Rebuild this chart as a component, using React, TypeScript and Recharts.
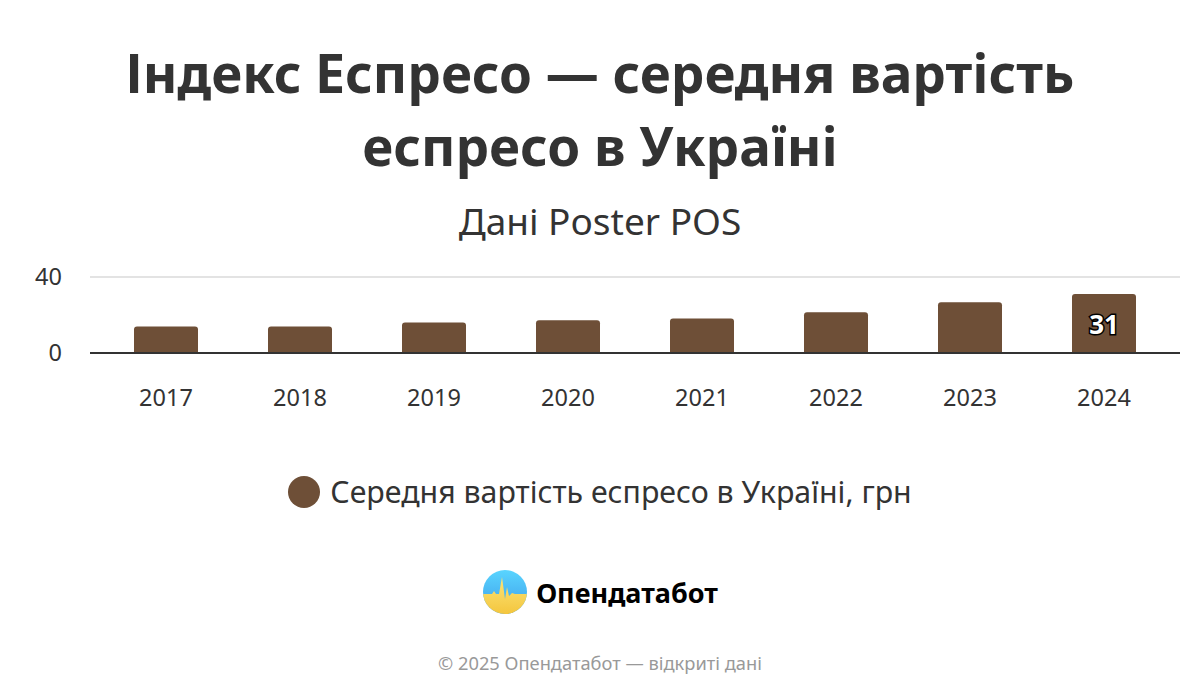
import React from 'react'
import { Bar, BarChart, CartesianGrid, LabelList, XAxis, YAxis } from 'recharts'

const years = ['2017', '2018', '2019', '2020', '2021', '2022', '2023', '2024']
const prices = [14, 14, 16.1, 17.2, 18.2, 21.4, 26.7, 31]
const shownLabels = [null, null, null, null, null, null, null, '31']
const yTicks = [0, 40]

const chartData = years.map((y, i) => ({ year: y, price: prices[i], label: shownLabels[i] }))

const FONT = '"Noto Sans", "Open Sans", sans-serif'
const BROWN = '#6e4f37'

function BarValue(props: any) {
  const { x, y, width, height, value } = props
  if (!value) return null
  return (
    <text
      x={x + width / 2}
      y={y + height / 2}
      textAnchor="middle"
      dominantBaseline="central"
      fontFamily={FONT}
      fontWeight={700}
      fontSize={26}
      fill="#fff"
      stroke="#000"
      strokeWidth={3}
      paintOrder="stroke"
    >
      {value}
    </text>
  )
}

function Logo() {
  return (
    <svg width={46} height={46} viewBox="0 0 46 46">
      <defs>
        <clipPath id="lc">
          <circle cx={23} cy={23} r={22} />
        </clipPath>
        <linearGradient id="lb" x1="0" y1="0" x2="0" y2="1">
          <stop offset="0" stopColor="#5ad6ff" />
          <stop offset="1" stopColor="#3d9be9" />
        </linearGradient>
        <linearGradient id="ly" x1="0" y1="0" x2="0" y2="1">
          <stop offset="0" stopColor="#fbe57a" />
          <stop offset="1" stopColor="#f4c53c" />
        </linearGradient>
      </defs>
      <g clipPath="url(#lc)">
        <rect x={0} y={0} width={46} height={46} fill="url(#lb)" />
        <path
          d="M0 25 L10 25 L12 22 L14 25 L17 25 L20 8 L23 30 L25 18 L27 27 L30 24 L33 25 L46 25 L46 46 L0 46 Z"
          fill="url(#ly)"
        />
      </g>
    </svg>
  )
}

export default function App() {
  return (
    <div
      style={{
        position: 'absolute',
        left: 0,
        top: 0,
        width: 1200,
        height: 700,
        background: '#fff',
        fontFamily: FONT,
        color: '#333',
      }}
    >
      <div
        style={{
          position: 'absolute',
          top: 36,
          left: 0,
          width: 1200,
          textAlign: 'center',
          fontSize: 53,
          fontWeight: 700,
          lineHeight: '73px',
          color: '#333',
        }}
      >
        Індекс Еспресо — середня вартість
        <br />
        еспресо в Україні
      </div>
      <div
        style={{
          position: 'absolute',
          top: 196,
          left: 0,
          width: 1200,
          textAlign: 'center',
          fontSize: 37,
          lineHeight: '50px',
          color: '#333',
        }}
      >
        Дані Poster POS
      </div>

      <div style={{ position: 'absolute', left: 0, top: 0 }}>
        <BarChart width={1200} height={420} data={chartData} margin={{ top: 277, right: 20, bottom: 37, left: 30 }}>
          <CartesianGrid vertical={false} stroke="#e3e3e3" strokeWidth={2} />
          <XAxis
            dataKey="year"
            padding={{ left: 9, right: 9 }}
            axisLine={{ stroke: '#333', strokeWidth: 2 }}
            tickLine={false}
            tickMargin={30}
            tick={{ fill: '#333', fontSize: 23.5, fontFamily: FONT }}
          />
          <YAxis
            width={60}
            domain={[0, 40]}
            ticks={yTicks}
            axisLine={false}
            tickLine={false}
            tickMargin={22}
            tick={{ fill: '#333', fontSize: 23.5, fontFamily: FONT }}
          />
          <Bar dataKey="price" fill={BROWN} barSize={64} radius={[3, 3, 0, 0]} isAnimationActive={false}>
            <LabelList dataKey="label" content={<BarValue />} />
          </Bar>
        </BarChart>
      </div>

      <div
        style={{
          position: 'absolute',
          top: 470,
          left: 0,
          width: 1200,
          display: 'flex',
          justifyContent: 'center',
          alignItems: 'center',
          gap: 10,
        }}
      >
        <span style={{ width: 32, height: 32, borderRadius: 16, background: BROWN, display: 'inline-block' }} />
        <span style={{ fontSize: 30.3, lineHeight: '44px', color: '#333' }}>Середня вартість еспресо в Україні, грн</span>
      </div>

      <div
        style={{
          position: 'absolute',
          top: 569,
          left: 0,
          width: 1200,
          display: 'flex',
          justifyContent: 'center',
          alignItems: 'center',
          gap: 8,
        }}
      >
        <Logo />
        <span style={{ fontSize: 27, fontWeight: 700, color: '#000' }}>Опендатабот</span>
      </div>

      <div
        style={{
          position: 'absolute',
          top: 650,
          left: 0,
          width: 1200,
          textAlign: 'center',
          fontSize: 18.3,
          color: '#999',
        }}
      >
        © 2025 Опендатабот — відкриті дані
      </div>
    </div>
  )
}
